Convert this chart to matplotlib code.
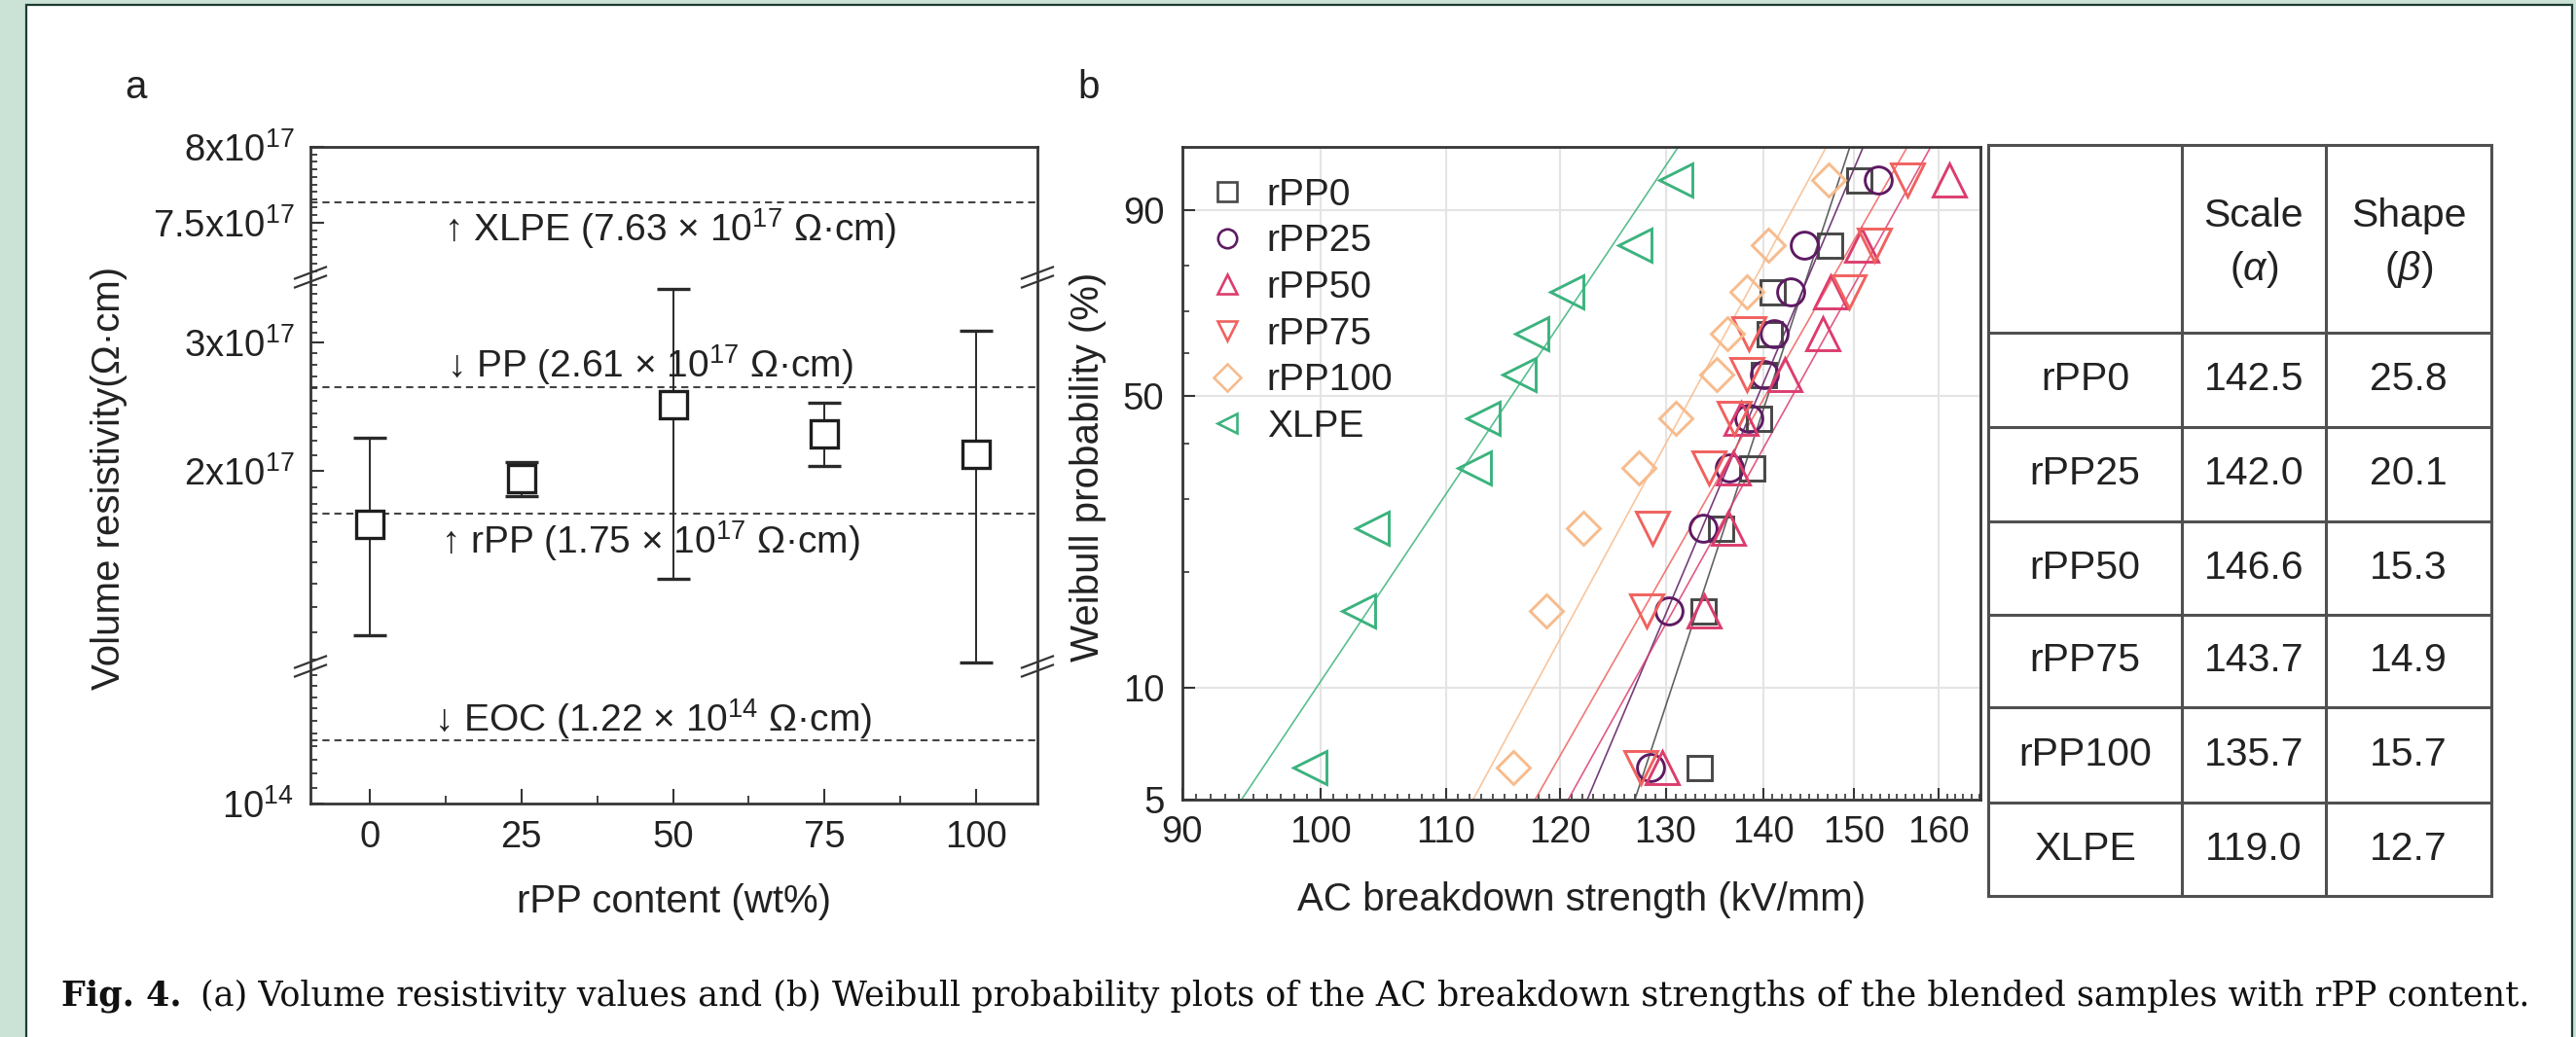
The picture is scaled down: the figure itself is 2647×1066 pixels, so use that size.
import numpy as np
import matplotlib
matplotlib.use('Agg')
import matplotlib.pyplot as plt
import matplotlib.ticker as mticker
from matplotlib.patches import Rectangle
from matplotlib.lines import Line2D

# ---------------- data: panel a ----------------
rpp_content = [0, 25, 50, 75, 100]
resistivity = [1.69e17, 1.95e17, 2.47e17, 2.25e17, 2.11e17]
resistivity_low = [1.19e17, 1.85e17, 1.42e17, 2.035e17, 1.09e17]
resistivity_high = [2.22e17, 2.06e17, 3.56e17, 2.48e17, 3.12e17]

ref_names = ['XLPE', 'PP', 'rPP', 'EOC']
ref_arrows = ['↑', '↓', '↑', '↓']
ref_values = [7.63e17, 2.61e17, 1.75e17, 1.22e14]
ref_mantissa = ['7.63', '2.61', '1.75', '1.22']
ref_exponent = ['17', '17', '17', '14']

# ---------------- data: panel b ----------------
weibull_prob = [6.1, 15.9, 25.6, 35.4, 45.1, 54.9, 64.6, 74.4, 84.1, 93.9]
bd_rpp0 = [133.4, 133.8, 135.5, 138.8, 139.5, 140.0, 140.7, 141.0, 147.3, 150.6]
bd_rpp25 = [128.5, 130.3, 133.8, 136.5, 138.5, 140.1, 141.2, 143.0, 144.4, 152.8]
bd_rpp50 = [129.7, 133.9, 136.4, 136.9, 137.7, 142.3, 146.5, 147.4, 150.9, 161.3]
bd_rpp75 = [127.6, 128.1, 128.7, 134.3, 137.0, 138.3, 138.5, 149.5, 152.4, 156.2]
bd_rpp100 = [115.8, 118.7, 122.1, 127.4, 131.0, 135.1, 136.3, 138.3, 140.5, 147.1]
bd_xlpe = [99.2, 102.9, 104.0, 112.4, 113.2, 116.3, 117.4, 120.6, 127.0, 131.0]

samples = ['rPP0', 'rPP25', 'rPP50', 'rPP75', 'rPP100', 'XLPE']
scale_alpha = [142.5, 142.0, 146.6, 143.7, 135.7, 119.0]
shape_beta = [25.8, 20.1, 15.3, 14.9, 15.7, 12.7]

x_ticks_a = [0, 25, 50, 75, 100]
x_ticks_b = [90, 100, 110, 120, 130, 140, 150, 160]
y_ticks_b = [5, 10, 50, 90]

caption_bold = 'Fig. 4.'
caption_rest = ('(a) Volume resistivity values and (b) Weibull probability plots of the AC '
                'breakdown strengths of the blended samples with rPP content.')

# ---------------- style ----------------
plt.rcParams['font.family'] = ['Liberation Sans', 'DejaVu Sans']
plt.rcParams['mathtext.fontset'] = 'custom'
plt.rcParams['mathtext.rm'] = 'Liberation Sans'
plt.rcParams['mathtext.it'] = 'Liberation Sans:italic'
plt.rcParams['mathtext.bf'] = 'Liberation Sans:bold'

TXT = '#222222'
SPINE = '#353535'
colors = ['#474747', '#5e1a63', '#dc3d6e', '#f0625f', '#f7bb8c', '#3cb37e']
markers = ['s', 'o', '^', 'v', 'D', '<']
msizes = [18, 20, 24, 24, 17.5, 24]

W, H = 2647, 1066
fig = plt.figure(figsize=(W / 100, H / 100), dpi=100)
fig.patch.set_facecolor('#cbe3d7')


def fx(X):
    return X / W


def fy(Y):
    return 1 - Y / H


fig.patches.append(Rectangle((fx(27), -0.1), fx(2643) - fx(27), fy(5) + 0.1,
                             transform=fig.transFigure, facecolor='white',
                             edgecolor='#1d3b33', lw=1.6, zorder=-5))

# ================= panel a =================
L, R = 319, 1066
Ytop, Ybrk1, Ybrk2, Ybot = 151, 285, 685, 826
ax_top = fig.add_axes([fx(L), fy(Ybrk1), fx(R) - fx(L), (Ybrk1 - Ytop) / H])
ax_mid = fig.add_axes([fx(L), fy(Ybrk2), fx(R) - fx(L), (Ybrk2 - Ybrk1) / H], sharex=ax_top)
ax_bot = fig.add_axes([fx(L), fy(Ybot), fx(R) - fx(L), (Ybot - Ybrk2) / H], sharex=ax_top)

for ax in (ax_top, ax_mid, ax_bot):
    ax.set_yscale('log')
    ax.set_facecolor('none')
    for s in ax.spines.values():
        s.set_color(SPINE)
        s.set_linewidth(2.0)
    ax.tick_params(axis='y', which='both', direction='in', left=True, right=False,
                   colors=SPINE, labelcolor=TXT, labelsize=27.5, pad=12)
    ax.tick_params(axis='y', which='major', length=10, width=1.5)
    ax.tick_params(axis='y', which='minor', length=5, width=1.3)
    ax.yaxis.set_minor_formatter(mticker.NullFormatter())

ax_top.spines['bottom'].set_visible(False)
ax_mid.spines['top'].set_visible(False)
ax_mid.spines['bottom'].set_visible(False)
ax_bot.spines['top'].set_visible(False)
for ax in (ax_top, ax_mid):
    ax.tick_params(axis='x', which='both', bottom=False, top=False, labelbottom=False)

ax_top.set_ylim(7.164e17, 8e17)
ax_mid.set_ylim(1.078e17, 3.692e17)
ax_bot.set_ylim(1e14, 1.5434e14)

ax_top.yaxis.set_major_locator(mticker.FixedLocator([7.5e17, 8e17]))
ax_top.yaxis.set_major_formatter(mticker.FixedFormatter([r'7.5x10$^{17}$', r'8x10$^{17}$']))
ax_top.yaxis.set_minor_locator(mticker.MultipleLocator(0.05e17))
ax_mid.yaxis.set_major_locator(mticker.FixedLocator([2e17, 3e17]))
ax_mid.yaxis.set_major_formatter(mticker.FixedFormatter([r'2x10$^{17}$', r'3x10$^{17}$']))
ax_mid.yaxis.set_minor_locator(mticker.MultipleLocator(0.1e17))
ax_bot.yaxis.set_major_locator(mticker.FixedLocator([1e14]))
ax_bot.yaxis.set_major_formatter(mticker.FixedFormatter([r'10$^{14}$']))
ax_bot.yaxis.set_minor_locator(mticker.MultipleLocator(0.05e14))

ax_bot.set_xlim(-9.8, 110.1)
ax_bot.xaxis.set_major_locator(mticker.FixedLocator(x_ticks_a))
ax_bot.xaxis.set_minor_locator(mticker.MultipleLocator(12.5))
ax_bot.tick_params(axis='x', which='both', direction='in', top=False, colors=SPINE,
                   labelcolor=TXT, labelsize=27.5, pad=12)
ax_bot.tick_params(axis='x', which='major', length=11, width=1.5)
ax_bot.tick_params(axis='x', which='minor', length=6, width=1.3)

# reference dashed lines
for ax in (ax_top, ax_mid, ax_bot):
    lo, hi = ax.get_ylim()
    for v in ref_values:
        if lo < v < hi:
            ax.axhline(v, color='#444444', lw=1.5, ls=(0, (3.5, 2.4)), zorder=1)

# data with error bars
res = np.array(resistivity)
yerr = [res - np.array(resistivity_low), np.array(resistivity_high) - res]
ax_mid.errorbar(rpp_content, resistivity, yerr=yerr, fmt='s', color='#1e1e1e',
                ms=19.5, mfc='white', mec='#1e1e1e', mew=2.4, ecolor='#2a2a2a',
                elinewidth=1.4, capsize=12, capthick=1.4, zorder=3)

# annotations
ann_pos = [(689, 235), (668, 375), (668, 556), (671, 739)]
for name, arr, man, ex, (X, Y) in zip(ref_names, ref_arrows, ref_mantissa, ref_exponent, ann_pos):
    fig.text(fx(X), fy(Y), arr + ' ' + name + ' (' + man + r' $\times$ 10$^{' + ex + r'}$ Ω·cm)',
             ha='center', va='center', fontsize=28, color=TXT)

# break marks
for Xc in (L, R):
    for Yc in (Ybrk1, Ybrk2):
        for dy in (-4.5, 4.5):
            fig.add_artist(Line2D([fx(Xc - 16), fx(Xc + 16)],
                                  [fy(Yc + dy + 6), fy(Yc + dy - 6)],
                                  color=SPINE, lw=1.6))

fig.text(fx(140), fy(90), 'a', fontsize=29, color=TXT, ha='center', va='center')
fig.text(fx(112), fy(491), 'Volume resistivity(Ω·cm)', rotation=90, fontsize=29,
         color=TXT, ha='center', va='center')
fig.text(fx(692), fy(927), 'rPP content (wt%)', fontsize=29, color=TXT,
         ha='center', va='center')

# ================= panel b =================
bL, bR, bT, bB = 1214.5, 2035, 151, 821.7
axb = fig.add_axes([fx(bL), fy(bB), fx(bR) - fx(bL), (bB - bT) / H])


def wb_fwd(p):
    p = np.clip(np.asarray(p, dtype=float), 1e-9, 100 - 1e-9)
    return np.log(-np.log(1 - p / 100.0))


def wb_inv(y):
    return 100.0 * (1 - np.exp(-np.exp(np.asarray(y, dtype=float))))


axb.set_xscale('log')
axb.set_yscale('function', functions=(wb_fwd, wb_inv))
axb.set_xlim(90, 165.15)
axb.set_ylim(5, 96.9)

axb.xaxis.set_major_locator(mticker.FixedLocator(x_ticks_b))
axb.xaxis.set_major_formatter(mticker.FixedFormatter([str(t) for t in x_ticks_b]))
axb.xaxis.set_minor_locator(mticker.FixedLocator(np.arange(90, 166, 1)))
axb.xaxis.set_minor_formatter(mticker.NullFormatter())
axb.yaxis.set_major_locator(mticker.FixedLocator(y_ticks_b))
axb.yaxis.set_major_formatter(mticker.FixedFormatter([str(t) for t in y_ticks_b]))
axb.yaxis.set_minor_locator(mticker.FixedLocator([20, 30, 40, 60, 70, 80]))
axb.yaxis.set_minor_formatter(mticker.NullFormatter())

axb.tick_params(axis='both', which='both', direction='in', top=False, right=False,
                colors=SPINE, labelcolor=TXT, labelsize=27.5)
axb.tick_params(axis='x', which='major', length=9, width=1.5, pad=12)
axb.tick_params(axis='x', which='minor', length=4, width=1.2)
axb.tick_params(axis='y', which='major', length=9, width=1.5, pad=13)
axb.tick_params(axis='y', which='minor', length=5, width=1.2)
for s in axb.spines.values():
    s.set_color(SPINE)
    s.set_linewidth(2.0)
axb.grid(True, which='major', color='#e4e4e4', lw=1.5, zorder=0)
axb.set_axisbelow(True)

series = [bd_rpp0, bd_rpp25, bd_rpp50, bd_rpp75, bd_rpp100, bd_xlpe]
yv = np.linspace(wb_fwd(3.0), wb_fwd(99.5), 300)
Fline = wb_inv(yv)
for vals, a, b, c, m, ms in zip(series, scale_alpha, shape_beta, colors, markers, msizes):
    xline = a * (-np.log(1 - Fline / 100.0)) ** (1.0 / b)
    axb.plot(xline, Fline, color=c, lw=1.2, alpha=0.85, zorder=2)
    axb.plot(vals, weibull_prob, ls='none', marker=m, ms=ms, mfc='none', mec=c,
             mew=2.1, zorder=3)

handles = [Line2D([], [], ls='none', marker=m, ms=14, mfc='none', mec=c, mew=1.9)
           for m, c in zip(markers, colors)]
leg = axb.legend(handles, samples, loc='upper left', bbox_to_anchor=(0.033, 0.953),
                 frameon=False, fontsize=28, handlelength=1.0, handletextpad=0.55,
                 labelspacing=0.3, borderpad=0, borderaxespad=0)
for t in leg.get_texts():
    t.set_color(TXT)

fig.text(fx(1119), fy(90), 'b', fontsize=29, color=TXT, ha='center', va='center')
fig.text(fx(1118), fy(480), 'Weibull probability (%)', rotation=90, fontsize=29,
         color=TXT, ha='center', va='center')
fig.text(fx(1625), fy(925), 'AC breakdown strength (kV/mm)', fontsize=29, color=TXT,
         ha='center', va='center')

# ================= table =================
tx = [2043, 2242, 2390, 2560]
ty = [148.7, 341.6, 438.6, 535.6, 631.5, 727.4, 825, 921.4]
TCOL = '#505050'
for X in tx:
    fig.add_artist(Line2D([fx(X), fx(X)], [fy(ty[0]), fy(ty[-1])], color=TCOL, lw=2.2))
for Y in ty:
    fig.add_artist(Line2D([fx(tx[0]), fx(tx[-1])], [fy(Y), fy(Y)], color=TCOL, lw=2.2))

cx = [(tx[i] + tx[i + 1]) / 2 for i in range(3)]
fig.text(fx(cx[1]), fy(222), 'Scale', fontsize=29.5, color=TXT, ha='center', va='center')
fig.text(fx(cx[1]), fy(277), r'($\alpha$)', fontsize=29.5, color=TXT, ha='center', va='center')
fig.text(fx(cx[2]), fy(222), 'Shape', fontsize=29.5, color=TXT, ha='center', va='center')
fig.text(fx(cx[2]), fy(277), r'($\beta$)', fontsize=29.5, color=TXT, ha='center', va='center')
for i, (sname, a, b) in enumerate(zip(samples, scale_alpha, shape_beta)):
    Yc = (ty[i + 1] + ty[i + 2]) / 2
    fig.text(fx(cx[0]), fy(Yc), sname, fontsize=29.5, color=TXT, ha='center', va='center')
    fig.text(fx(cx[1]), fy(Yc), f'{a:.1f}', fontsize=29.5, color=TXT, ha='center', va='center')
    fig.text(fx(cx[2]), fy(Yc), f'{b:.1f}', fontsize=29.5, color=TXT, ha='center', va='center')

# ================= caption =================
renderer = fig.canvas.get_renderer()
cap_left, cap_right, cap_Y = 63, 2591, 1024
fs = 24.0
t1 = fig.text(fx(cap_left), fy(cap_Y), caption_bold, fontsize=fs, fontweight='bold',
              family='DejaVu Serif', color='#111111', ha='left', va='center')
t2 = fig.text(0, fy(cap_Y), caption_rest, fontsize=fs, family='DejaVu Serif',
              color='#111111', ha='left', va='center')
for _ in range(3):
    t1.set_fontsize(fs)
    t2.set_fontsize(fs)
    b1 = t1.get_window_extent(renderer)
    gap = fs * 100 / 72 * 0.55
    t2.set_x(fx(b1.x1 + gap))
    b2 = t2.get_window_extent(renderer)
    total = b2.x1 - b1.x0
    fs = fs * (cap_right - cap_left) / total

fig.savefig('out.png', dpi=100, facecolor=fig.get_facecolor())
